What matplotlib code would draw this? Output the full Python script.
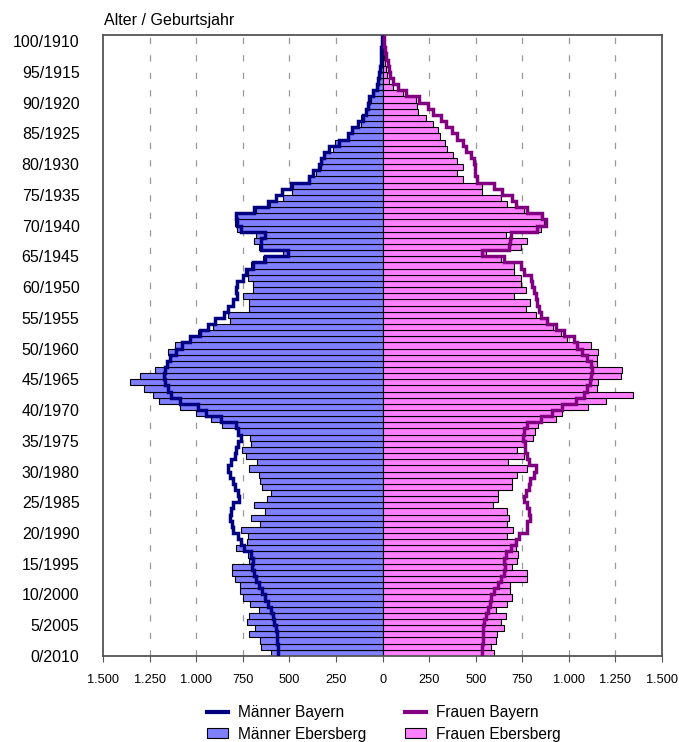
import matplotlib
matplotlib.use("Agg")
import matplotlib.pyplot as plt
from matplotlib.lines import Line2D
from matplotlib.patches import Patch
import numpy as np

plt.rcParams["font.family"] = ["Liberation Sans", "DejaVu Sans"]

# Alter 0..100 (Stand 2010)
AGES = np.arange(0, 101)

maenner_ebersberg = [
    599, 652, 658, 718, 683, 729, 718, 665, 711, 751,
    765, 765, 790, 811, 811, 720, 724, 786, 727, 724,
    759, 656, 706, 631, 688, 622, 599, 647, 658, 665,
    718, 675, 736, 754, 706, 711, 772, 861, 920, 1001,
    1090, 1201, 1233, 1283, 1355, 1301, 1224, 1153, 1135, 1153,
    1117, 1036, 992, 911, 818, 831, 715, 715, 747, 697,
    697, 724, 724, 706, 643, 536, 665, 688, 679, 783,
    790, 795, 679, 607, 536, 486, 480, 400, 357, 330,
    325, 313, 268, 257, 188, 161, 116, 116, 89, 71,
    62, 45, 27, 21, 18, 14, 11, 9, 7, 5, 4,
]

maenner_bayern = [
    559, 563, 566, 568, 572, 581, 590, 599, 617, 634,
    647, 665, 679, 693, 700, 697, 706, 742, 759, 777,
    804, 808, 822, 813, 804, 772, 777, 795, 804, 822,
    831, 813, 795, 786, 777, 759, 777, 786, 867, 947,
    992, 1090, 1135, 1153, 1170, 1176, 1170, 1160, 1140, 1110,
    1075, 1036, 983, 938, 902, 849, 831, 804, 783, 786,
    783, 751, 733, 697, 634, 509, 652, 652, 634, 760,
    783, 786, 688, 616, 572, 540, 490, 393, 375, 340,
    330, 313, 286, 236, 188, 166, 134, 107, 89, 80,
    71, 54, 30, 25, 18, 14, 11, 9, 7, 5, 4,
]

frauen_ebersberg = [
    599, 581, 608, 613, 649, 638, 661, 611, 670, 697,
    683, 683, 774, 774, 697, 724, 727, 715, 709, 667,
    700, 667, 679, 667, 590, 620, 622, 693, 693, 720,
    777, 674, 760, 724, 760, 808, 817, 835, 933, 965,
    1103, 1197, 1344, 1153, 1156, 1278, 1283, 1153, 1153, 1156,
    1117, 992, 960, 915, 888, 826, 772, 792, 706, 768,
    745, 745, 706, 706, 634, 554, 742, 777, 661, 849,
    867, 849, 760, 667, 634, 531, 536, 429, 402, 434,
    398, 380, 345, 336, 309, 298, 273, 232, 188, 184,
    179, 107, 54, 32, 23, 18, 13, 10, 7, 5, 3,
]

frauen_bayern = [
    531, 536, 541, 541, 540, 545, 554, 568, 577, 584,
    599, 620, 638, 652, 657, 649, 661, 688, 715, 733,
    777, 777, 792, 786, 777, 759, 768, 786, 792, 813,
    822, 786, 774, 763, 763, 756, 759, 777, 849, 911,
    965, 1036, 1081, 1099, 1113, 1117, 1126, 1117, 1095, 1072,
    1045, 1028, 974, 929, 885, 849, 840, 827, 822, 813,
    804, 795, 759, 742, 652, 536, 679, 684, 688, 831,
    876, 858, 777, 715, 697, 643, 599, 509, 495, 495,
    491, 473, 447, 429, 402, 375, 340, 313, 268, 241,
    197, 125, 80, 54, 41, 36, 27, 20, 14, 9, 9,
]

Y_TICKS = list(range(0, 101, 5))
Y_LABELS = [f"{a}/{2010 - a}" for a in Y_TICKS]
X_TICKS = list(range(-1500, 1501, 250))
X_LABELS = [f"{abs(v):,}".replace(",", ".") for v in X_TICKS]

C_M_BAR = "#8080ff"
C_F_BAR = "#ff80ff"
C_M_LINE = "#000080"
C_F_LINE = "#800080"

fig = plt.figure(figsize=(6.79, 7.42), dpi=100)
ax = fig.add_axes([0.152, 0.116, 0.823, 0.8368])

ax.barh(AGES, -np.array(maenner_ebersberg), height=1, align="edge",
        color=C_M_BAR, edgecolor="black", linewidth=0.8, zorder=2)
ax.barh(AGES, frauen_ebersberg, height=1, align="edge",
        color=C_F_BAR, edgecolor="black", linewidth=0.8, zorder=2)

edges = np.arange(0, 102)
ax.stairs(-np.array(maenner_bayern), edges, orientation="horizontal",
          baseline=None, color=C_M_LINE, linewidth=2.5, zorder=3)
ax.stairs(frauen_bayern, edges, orientation="horizontal",
          baseline=None, color=C_F_LINE, linewidth=2.5, zorder=3)

ax.set_xlim(-1500, 1500)
ax.set_ylim(0, 101)
ax.set_xticks(X_TICKS)
ax.set_xticklabels(X_LABELS, fontsize=9.2)
ax.set_yticks(Y_TICKS)
ax.set_yticklabels(Y_LABELS, fontsize=11.5)
ax.tick_params(axis="y", length=0, pad=17)
ax.tick_params(axis="x", length=4, direction="out", color="#555555", pad=9)

for v in X_TICKS[1:-1]:
    if v != 0:
        ax.axvline(v, color="#999999", linewidth=0.9, linestyle=(0, (5, 9)), zorder=1)

for s in ax.spines.values():
    s.set_color("#555555")
    s.set_linewidth(1.3)

fig.text(0.153, 0.973, "Alter / Geburtsjahr", fontsize=11.5, ha="left", va="center")

handles = [
    Line2D([], [], color=C_M_LINE, linewidth=3),
    Patch(facecolor=C_M_BAR, edgecolor="black", linewidth=0.8),
    Line2D([], [], color=C_F_LINE, linewidth=3),
    Patch(facecolor=C_F_BAR, edgecolor="black", linewidth=0.8),
]
labels = ["Männer Bayern", "Männer Ebersberg", "Frauen Bayern", "Frauen Ebersberg"]
fig.legend(handles, labels, ncol=2, loc="upper left",
           bbox_to_anchor=(199 / 679, 1 - 697 / 742), borderpad=0,
           frameon=False, fontsize=11.2, handlelength=1.35, handleheight=0.6,
           columnspacing=2.5, labelspacing=0.45, handletextpad=0.64)

fig.savefig("out.png", dpi=100)
